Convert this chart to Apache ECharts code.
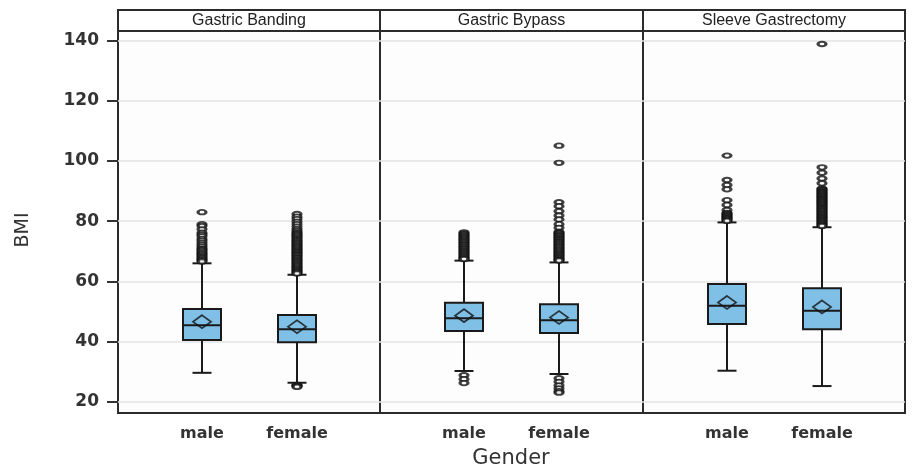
<!DOCTYPE html>
<html>
<head>
<meta charset="utf-8">
<script src="https://cdn.jsdelivr.net/npm/echarts@6/dist/echarts.min.js"></script>
<style>
  html, body { margin: 0; padding: 0; background: #fff; }
  #chart { width: 912px; height: 470px; }
</style>
</head>
<body>
<div id="chart"></div>
<script>
// panels and categories
const panels = ['Gastric Banding', 'Gastric Bypass', 'Sleeve Gastrectomy'];
const genders = ['male', 'female'];
const yTicks = [20, 40, 60, 80, 100, 120, 140];

// [low whisker, q1, median, q3, high whisker] for male, female
const bandingBox = [[29.6, 40.5, 45.4, 50.8, 66.0], [26.3, 39.8, 44.1, 48.8, 62.2]];
const bypassBox = [[30.2, 43.5, 47.7, 52.9, 66.9], [29.2, 42.8, 47.1, 52.4, 66.3]];
const sleeveBox = [[30.3, 45.8, 51.9, 59.1, 79.6], [25.2, 44.1, 50.2, 57.7, 78.0]];

// means (diamonds)
const bandingMean = [46.6, 44.9];
const bypassMean = [48.6, 48.0];
const sleeveMean = [53.0, 51.5];

// outliers
const bandingMaleOut = [83.0, 79.0, 78.4, 77.3, 76.2, 75.6, 75.0, 74.1, 73.5, 72.8, 72.2, 71.6, 71.0, 70.6,
  70.2, 69.7, 69.3, 68.9, 68.5, 68.1, 67.7, 67.3, 67.0, 66.6];
const bandingFemaleOut = [82.4, 81.5, 80.7, 79.8, 79.0, 78.2, 77.4, 76.8, 76.3, 75.9, 75.6, 75.2, 74.8, 74.4,
  74.0, 73.6, 73.3, 72.9, 72.6, 72.2, 71.9, 71.5, 71.2, 70.8, 70.5, 70.1, 69.8, 69.4, 69.1, 68.7, 68.4, 68.0,
  67.7, 67.3, 67.0, 66.6, 66.3, 65.9, 65.6, 65.2, 64.9, 64.5, 64.2, 63.8, 63.5, 63.2, 62.9, 62.6,
  25.6, 25.4, 25.2, 24.9];
const bypassMaleOut = [76.3, 75.9, 75.6, 75.2, 74.9, 74.5, 74.2, 73.8, 73.5, 73.1, 72.8, 72.4, 72.1, 71.7,
  71.4, 71.0, 70.7, 70.3, 70.0, 69.6, 69.3, 68.9, 68.6, 68.2, 67.9, 67.6, 67.4, 28.8, 27.5, 26.2];
const bypassFemaleOut = [105.1, 99.4, 86.3, 85.0, 83.3, 81.9, 80.6, 79.0, 77.8, 76.5, 76.1, 75.8, 75.4, 75.1,
  74.7, 74.4, 74.0, 73.7, 73.3, 73.0, 72.6, 72.3, 71.9, 71.6, 71.2, 70.9, 70.5, 70.2, 69.8, 69.5, 69.1, 68.8,
  68.4, 68.1, 67.7, 67.4, 67.1, 66.9, 27.8, 26.6, 25.4, 24.4, 23.5, 23.0];
const sleeveMaleOut = [101.8, 93.7, 92.0, 90.6, 87.0, 85.4, 83.7, 82.8, 82.5, 82.2, 81.9, 81.6, 81.3, 81.0,
  80.7, 80.4, 80.1];
const sleeveFemaleOut = [138.9, 97.9, 96.1, 94.2, 92.6, 90.9, 90.6, 90.3, 90.0, 89.7, 89.4, 89.1, 88.8, 88.5,
  88.2, 87.9, 87.6, 87.3, 87.0, 86.7, 86.4, 86.1, 85.8, 85.5, 85.2, 84.9, 84.6, 84.3, 84.0, 83.7, 83.4, 83.1,
  82.8, 82.5, 82.2, 81.9, 81.6, 81.3, 81.0, 80.7, 80.4, 80.1, 79.8, 79.5, 79.2, 78.9, 78.6, 78.4];

const boxes = [bandingBox, bypassBox, sleeveBox];
const means = [bandingMean, bypassMean, sleeveMean];
const outliers = [[bandingMaleOut, bandingFemaleOut], [bypassMaleOut, bypassFemaleOut], [sleeveMaleOut, sleeveFemaleOut]];

const chart = echarts.init(document.getElementById('chart'));

const panelLeft = [118, 380, 643];
const panelWidth = [262, 263, 262];
const frameTop = 31, frameBottom = 413;
const plotTop = 40.7, plotHeight = 361;
const ink = '#2b2b2b';

function renderBox(params, api) {
    const x = api.value(0);
    const lo = api.coord([x, api.value(1)]);
    const q1 = api.coord([x, api.value(2)]);
    const md = api.coord([x, api.value(3)]);
    const q3 = api.coord([x, api.value(4)]);
    const hi = api.coord([x, api.value(5)]);
    const bw = api.size([1, 0])[0] * 0.4;
    const cap = bw / 4;
    const cx = md[0];
    const line = { stroke: '#1a1a1a', lineWidth: 2 };
    return {
        type: 'group',
        children: [
            { type: 'line', shape: { x1: cx, y1: hi[1], x2: cx, y2: q3[1] }, style: line },
            { type: 'line', shape: { x1: cx, y1: q1[1], x2: cx, y2: lo[1] }, style: line },
            { type: 'line', shape: { x1: cx - cap, y1: hi[1], x2: cx + cap, y2: hi[1] }, style: line },
            { type: 'line', shape: { x1: cx - cap, y1: lo[1], x2: cx + cap, y2: lo[1] }, style: line },
            { type: 'rect', shape: { x: cx - bw / 2, y: q3[1], width: bw, height: q1[1] - q3[1] },
              style: { fill: '#80c0e6', stroke: '#1a1a1a', lineWidth: 2 } },
            { type: 'line', shape: { x1: cx - bw / 2, y1: md[1], x2: cx + bw / 2, y2: md[1] }, style: line }
        ]
    };
}

const grid = [], xAxis = [], yAxis = [], series = [], graphic = [];

panels.forEach((name, i) => {
    const L = panelLeft[i], W = panelWidth[i];
    // frame
    grid.push({ left: L, width: W, top: frameTop, height: frameBottom - frameTop,
        show: true, borderColor: ink, borderWidth: 2, backgroundColor: '#fdfdfd' });
    xAxis.push({ gridIndex: 3 * i, type: 'value', show: false });
    yAxis.push({ gridIndex: 3 * i, type: 'value', show: false });
    // scale (grid lines + y labels)
    grid.push({ left: L, width: W, top: plotTop, height: plotHeight });
    xAxis.push({ gridIndex: 3 * i + 1, type: 'value', show: false });
    yAxis.push({
        gridIndex: 3 * i + 1, type: 'value', min: 20, max: 140, interval: 20,
        axisLine: { show: false },
        axisTick: { show: i === 0, length: 11, lineStyle: { color: '#333', width: 2 } },
        axisLabel: { show: i === 0, margin: 19, fontFamily: 'DejaVu Sans', fontWeight: 'bold', fontSize: 17, color: '#333' },
        splitLine: { show: true, lineStyle: { color: '#e3e3e3', width: 1.5 } }
    });
    // data
    grid.push({ left: L + 36.5, width: 190, top: plotTop, height: plotHeight });
    xAxis.push({
        gridIndex: 3 * i + 2, type: 'category', data: genders, offset: 11.3,
        axisLine: { show: false },
        axisTick: { alignWithLabel: true, length: 7, lineStyle: { color: '#333', width: 2 } },
        axisLabel: { interval: 0, margin: 13, fontFamily: 'DejaVu Sans', fontWeight: 'bold', fontSize: 16, color: '#333' }
    });
    yAxis.push({ gridIndex: 3 * i + 2, type: 'value', min: 20, max: 140, show: false });

    series.push({
        type: 'custom', xAxisIndex: 3 * i + 2, yAxisIndex: 3 * i + 2, z: 2,
        renderItem: renderBox,
        encode: { x: 0, y: [1, 2, 3, 4, 5] },
        data: boxes[i].map((b, j) => [j].concat(b))
    });
    series.push({
        type: 'scatter', xAxisIndex: 3 * i + 2, yAxisIndex: 3 * i + 2, z: 3,
        symbol: 'diamond', symbolSize: [18, 13],
        itemStyle: { color: 'rgba(0,0,0,0)', borderColor: '#111', borderWidth: 1.8 },
        data: means[i].map((m, j) => [j, m])
    });
    series.push({
        type: 'scatter', xAxisIndex: 3 * i + 2, yAxisIndex: 3 * i + 2, z: 4,
        symbol: 'circle', symbolSize: [8, 4.5],
        itemStyle: { color: '#fff', borderColor: '#111', borderWidth: 2.4 },
        data: outliers[i][0].map(v => [0, v]).concat(outliers[i][1].map(v => [1, v]))
    });

    // strip header
    graphic.push({ type: 'rect', shape: { x: L, y: 10, width: W, height: 21 },
        style: { fill: '#fff', stroke: ink, lineWidth: 2 } });
    graphic.push({ type: 'text', x: L + W / 2, y: 21,
        style: { text: name, fill: '#222', font: '16px "Liberation Sans", Arial, sans-serif',
            textAlign: 'center', textVerticalAlign: 'middle' } });
});

// axis titles
graphic.push({ type: 'text', x: 511, y: 459,
    style: { text: 'Gender', fill: '#333', font: '21px "DejaVu Sans", sans-serif',
        textAlign: 'center', textVerticalAlign: 'middle' } });
graphic.push({ type: 'text', x: 23, y: 230, rotation: Math.PI / 2,
    style: { text: 'BMI', fill: '#333', font: '19px "DejaVu Sans", sans-serif',
        textAlign: 'center', textVerticalAlign: 'middle' } });

const option = {
    backgroundColor: '#fff',
    animation: false,
    grid, xAxis, yAxis, series, graphic
};
chart.setOption(option);
</script>
</body>
</html>
